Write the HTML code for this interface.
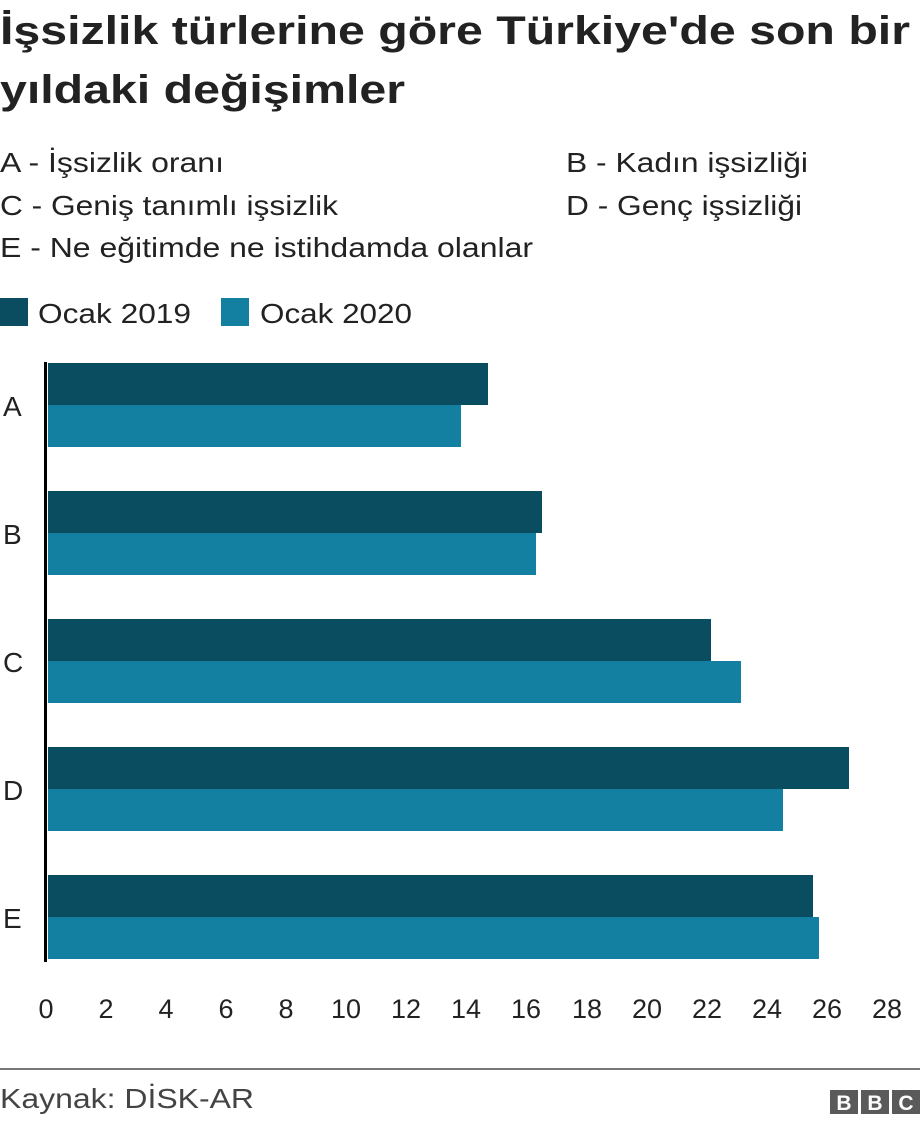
<!DOCTYPE html>
<html><head><meta charset="utf-8"><style>
body{margin:0;background:#fff;}
svg{display:block;font-family:"Liberation Sans",Arial,sans-serif;}
</style></head><body>
<svg width="920" height="1124" xmlns="http://www.w3.org/2000/svg">
<text x="0" y="44" font-size="40" font-weight="bold" fill="#222" textLength="910" lengthAdjust="spacingAndGlyphs">İşsizlik türlerine göre Türkiye'de son bir</text>
<text x="0" y="103" font-size="40" font-weight="bold" fill="#222" textLength="405" lengthAdjust="spacingAndGlyphs">yıldaki değişimler</text>
<g font-size="28" fill="#222">
<text x="0" y="172" textLength="224" lengthAdjust="spacingAndGlyphs">A - İşsizlik oranı</text>
<text x="566" y="172" textLength="242" lengthAdjust="spacingAndGlyphs">B - Kadın işsizliği</text>
<text x="0" y="215" textLength="338" lengthAdjust="spacingAndGlyphs">C - Geniş tanımlı işsizlik</text>
<text x="566" y="215" textLength="236" lengthAdjust="spacingAndGlyphs">D - Genç işsizliği</text>
<text x="0" y="257" textLength="533" lengthAdjust="spacingAndGlyphs">E - Ne eğitimde ne istihdamda olanlar</text>
<rect x="0" y="298" width="28" height="28" fill="#0b4d60"/>
<text x="38" y="323" textLength="153" lengthAdjust="spacingAndGlyphs">Ocak 2019</text>
<rect x="221" y="298" width="28" height="28" fill="#1380a1"/>
<text x="260" y="323" textLength="152" lengthAdjust="spacingAndGlyphs">Ocak 2020</text>
</g>
<g fill="#0b4d60">
<rect x="48" y="363" width="440" height="42"/>
<rect x="48" y="491" width="494" height="42"/>
<rect x="48" y="619" width="663" height="42"/>
<rect x="48" y="747" width="801" height="42"/>
<rect x="48" y="875" width="765" height="42"/>
</g>
<g fill="#1380a1">
<rect x="48" y="405" width="413" height="42"/>
<rect x="48" y="533" width="488" height="42"/>
<rect x="48" y="661" width="693" height="42"/>
<rect x="48" y="789" width="735" height="42"/>
<rect x="48" y="917" width="771" height="42"/>
</g>
<rect x="44" y="362" width="3" height="600" fill="#000"/>
<g font-size="28" fill="#222">
<text x="3" y="416">A</text>
<text x="3" y="544">B</text>
<text x="3" y="672">C</text>
<text x="3" y="800">D</text>
<text x="3" y="928">E</text>
</g>
<g font-size="27" fill="#222" text-anchor="middle">
<text x="46" y="1018">0</text><text x="106" y="1018">2</text><text x="166" y="1018">4</text>
<text x="226" y="1018">6</text><text x="286" y="1018">8</text><text x="346" y="1018">10</text>
<text x="406" y="1018">12</text><text x="466" y="1018">14</text><text x="526" y="1018">16</text>
<text x="587" y="1018">18</text><text x="647" y="1018">20</text><text x="707" y="1018">22</text>
<text x="767" y="1018">24</text><text x="827" y="1018">26</text><text x="887" y="1018">28</text>
</g>
<rect x="0" y="1068" width="920" height="2" fill="#777"/>
<text x="0" y="1108" font-size="28" fill="#444" textLength="254" lengthAdjust="spacingAndGlyphs">Kaynak: DİSK-AR</text>
<g fill="#5a5a5a"><rect x="830" y="1090" width="28" height="24"/><rect x="861" y="1090" width="28" height="24"/><rect x="892" y="1090" width="28" height="24"/></g>
<g fill="#fff" font-size="21" font-weight="bold" text-anchor="middle"><text x="844" y="1110">B</text><text x="875" y="1110">B</text><text x="906" y="1110">C</text></g>
</svg>
</body></html>
